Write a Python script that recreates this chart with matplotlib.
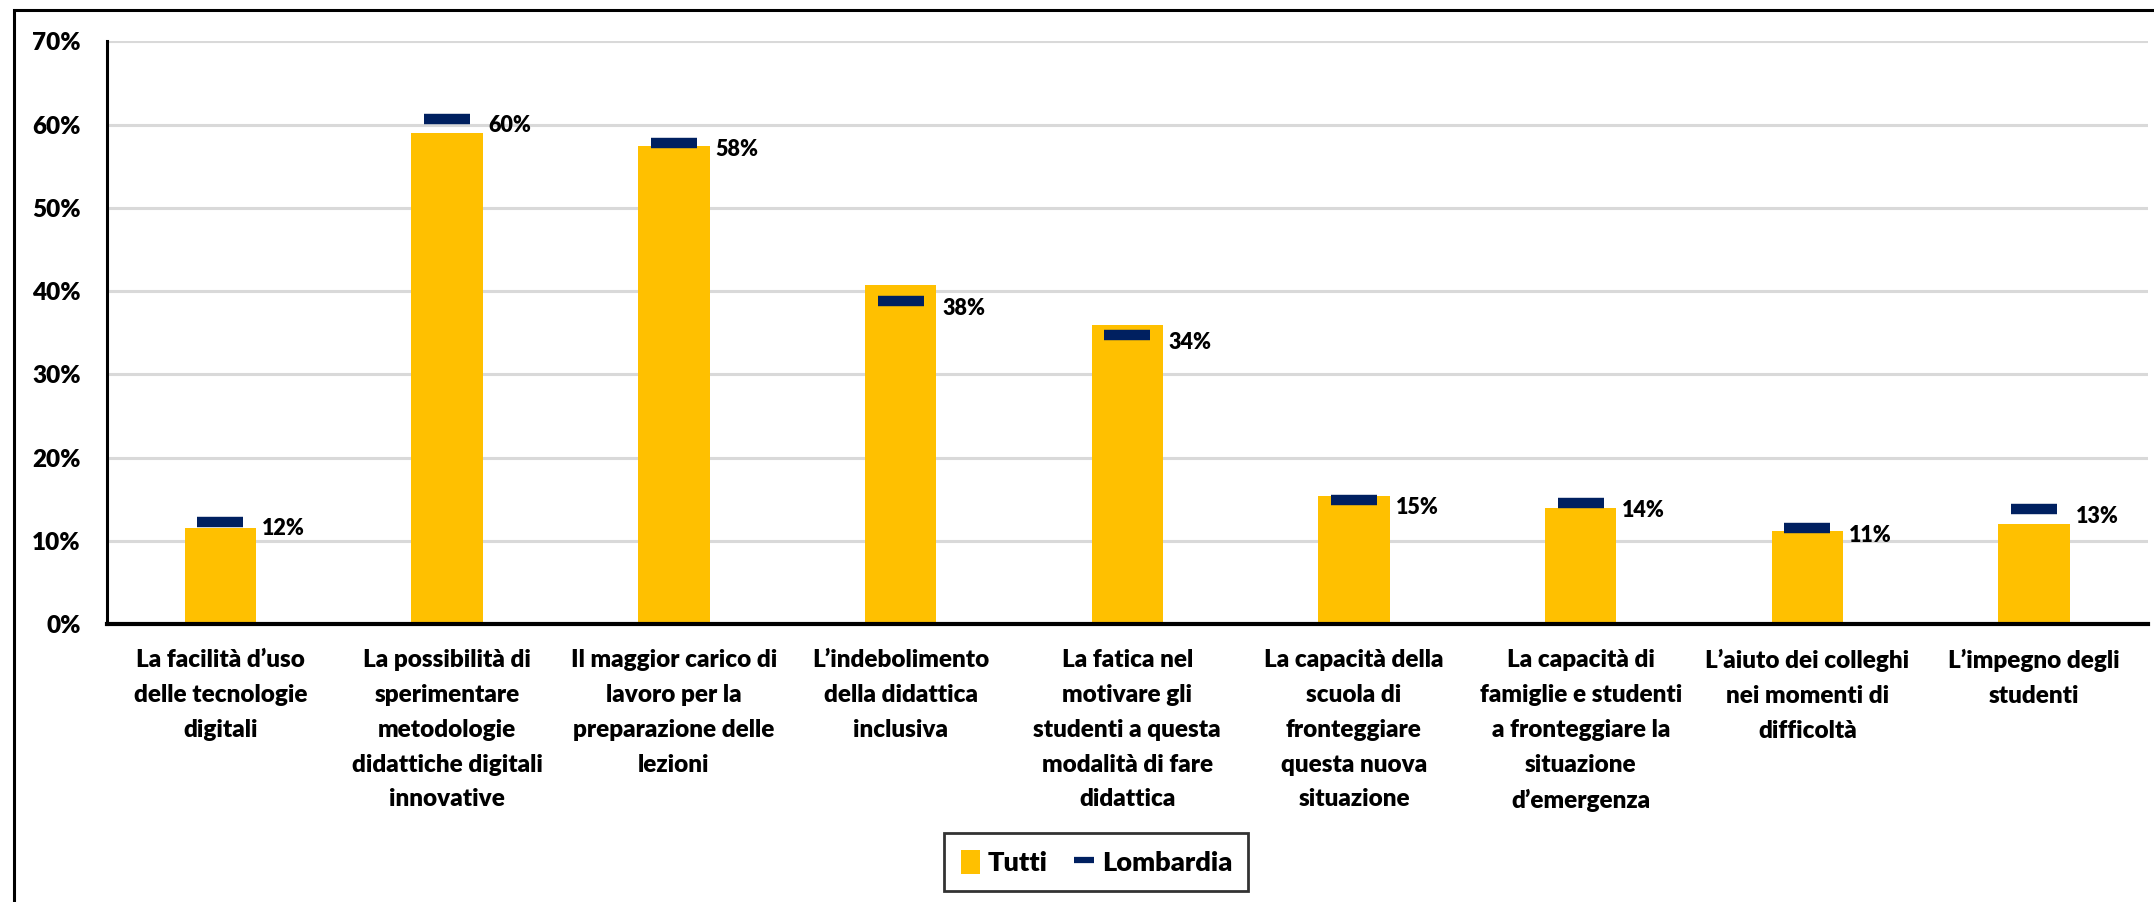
import matplotlib
matplotlib.use("Agg")
import matplotlib.pyplot as plt
from matplotlib.patches import Rectangle
from matplotlib.lines import Line2D
from matplotlib.ticker import PercentFormatter

plt.rcParams['font.family'] = ['Lato', 'DejaVu Sans']
PESO = 'heavy'

# dati
categorie = [
    "La facilità d’uso\ndelle tecnologie\ndigitali",
    "La possibilità di\nsperimentare\nmetodologie\ndidattiche digitali\ninnovative",
    "Il maggior carico di\nlavoro per la\npreparazione delle\nlezioni",
    "L’indebolimento\ndella didattica\ninclusiva",
    "La fatica nel\nmotivare gli\nstudenti a questa\nmodalità di fare\ndidattica",
    "La capacità della\nscuola di\nfronteggiare\nquesta nuova\nsituazione",
    "La capacità di\nfamiglie e studenti\na fronteggiare la\nsituazione\nd’emergenza",
    "L’aiuto dei colleghi\nnei momenti di\ndifficoltà",
    "L’impegno degli\nstudenti",
]
tutti = [11.6, 59.0, 57.5, 40.8, 35.9, 15.4, 13.9, 11.2, 12.0]
lombardia = [12.3, 60.7, 57.8, 38.8, 34.7, 14.9, 14.5, 11.5, 13.8]
etichette = [12, 60, 58, 38, 34, 15, 14, 11, 13]

giallo = '#FFC000'
blu = '#002060'

fig = plt.figure(figsize=(21.54, 9.02), dpi=100)
ax = fig.add_axes([0.0497, 0.308, 0.9473, 0.646])

x = list(range(len(categorie)))
barre = ax.bar(x, tutti, width=0.315, color=giallo, label='Tutti', zorder=2)
linea, = ax.plot(x, lombardia, linestyle='none', marker='_', markersize=33, markeredgewidth=7.5,
                 color=blu, label='Lombardia', zorder=3)

for xi, yi, lab in zip(x, lombardia, etichette):
    ax.annotate(f'{lab}%', (xi, yi), xytext=(30, -5), textcoords='offset points',
                ha='left', va='center', fontsize=15.5, fontweight=PESO)

ax.set_xlim(-0.5, len(categorie) - 0.5)
ax.set_ylim(0, 70)
ax.set_yticks(range(0, 71, 10))
ax.yaxis.set_major_formatter(PercentFormatter(decimals=0))
ax.set_xticks(x)
ax.set_xticklabels(categorie, fontsize=17.5, fontweight=PESO, linespacing=1.71)
ax.tick_params(axis='x', length=0, pad=18)
ax.tick_params(axis='y', length=0, pad=19, labelsize=17.5)
for t in ax.get_yticklabels():
    t.set_fontweight(PESO)

ax.grid(axis='y', color='#D9D9D9', linewidth=2.2, zorder=0)
ax.set_axisbelow(True)
for s in ['top', 'right']:
    ax.spines[s].set_visible(False)
ax.spines['left'].set_linewidth(2.2)
ax.spines['bottom'].set_linewidth(3)

h_lomb = Line2D([], [], linestyle='none', marker='_', markersize=14, markeredgewidth=4.5, color=blu)
leg = ax.legend([barre, h_lomb], ['Tutti', 'Lombardia'], loc='center',
                bbox_to_anchor=(0.509, 0.044), bbox_transform=fig.transFigure,
                ncol=2, fontsize=19.5, frameon=True, fancybox=False, edgecolor='black',
                handlelength=0.7, handleheight=1.0, handletextpad=0.3, columnspacing=1.0,
                borderpad=0.6, borderaxespad=0.8)
leg.get_frame().set_linewidth(2)
for t in leg.get_texts():
    t.set_fontweight(PESO)

# cornice esterna
fig.patches.append(Rectangle((14 / 2154, -0.05), 1.2, 1.05 - 10 / 902, transform=fig.transFigure,
                             fill=False, edgecolor='black', linewidth=2.2))

fig.savefig('out.png', dpi=100)
